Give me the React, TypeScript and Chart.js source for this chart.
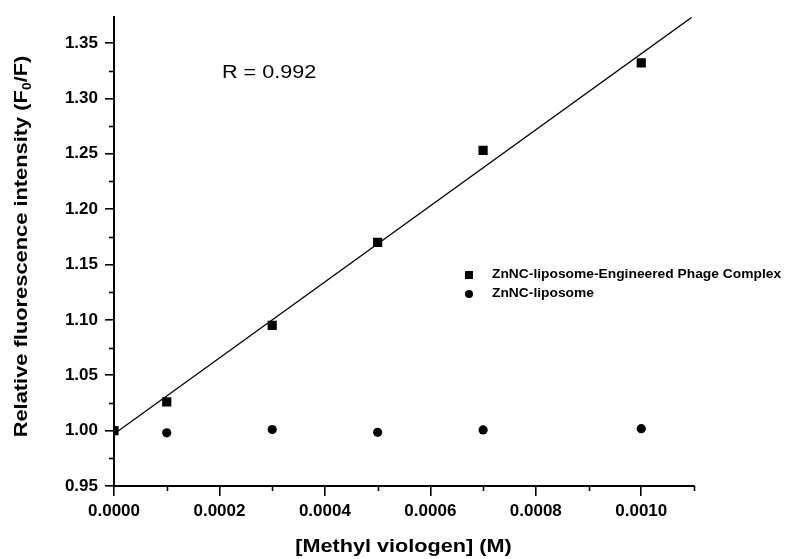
import React, { useEffect, useRef } from "react";
import { Chart, registerables } from "chart.js";

Chart.register(...registerables);

const concentrations = [0, 0.0001, 0.0003, 0.0005, 0.0007, 0.001];
const phageComplex = [1.0, 1.026, 1.095, 1.17, 1.253, 1.332];
const liposomeConc = [0.0001, 0.0003, 0.0005, 0.0007, 0.001];
const liposome = [0.998, 1.001, 0.9985, 1.0006, 1.0018];
const fitX = [0, 0.001096];
const fitY = [0.997, 1.3733];
const seriesNames = ["ZnNC-liposome-Engineered Phage Complex", "ZnNC-liposome"];
const rLabel = "R = 0.992";
const xTitle = "[Methyl viologen] (M)";
const yTitleParts = ["Relative fluorescence intensity (F", "0", "/F)"];

const FONT = "Arial, 'Liberation Sans', Helvetica, sans-serif";

const decorPlugin = {
  id: "decor",
  afterDraw(chart: any) {
    const ctx = chart.ctx;
    const xs = chart.scales.x;
    const ys = chart.scales.y;
    const area = chart.chartArea;
    ctx.save();
    // minor ticks
    ctx.strokeStyle = "#000";
    ctx.lineWidth = 1.6;
    const xMinor = [0.0001, 0.0003, 0.0005, 0.0007, 0.0009, 0.0011];
    xMinor.forEach((v) => {
      const px = Math.round(xs.getPixelForValue(v)) + 0.5;
      ctx.beginPath();
      ctx.moveTo(px, area.bottom);
      ctx.lineTo(px, area.bottom + 5);
      ctx.stroke();
    });
    const yMinor = [0.975, 1.025, 1.075, 1.125, 1.175, 1.225, 1.275, 1.325];
    yMinor.forEach((v) => {
      const py = Math.round(ys.getPixelForValue(v)) + 0.5;
      ctx.beginPath();
      ctx.moveTo(area.left, py);
      ctx.lineTo(area.left - 5, py);
      ctx.stroke();
    });

    ctx.fillStyle = "#000";
    // x title
    ctx.save();
    ctx.font = `bold 19px ${FONT}`;
    ctx.textBaseline = "alphabetic";
    ctx.textAlign = "center";
    ctx.translate(403.5, 552);
    ctx.scale(1.14, 1);
    ctx.fillText(xTitle, 0, 0);
    ctx.restore();

    // y title with subscript
    ctx.save();
    ctx.translate(27, 246.5);
    ctx.rotate(-Math.PI / 2);
    ctx.scale(1.15, 1);
    const mainFont = `bold 19px ${FONT}`;
    const subFont = `bold 12px ${FONT}`;
    ctx.font = mainFont;
    const w0 = ctx.measureText(yTitleParts[0]).width;
    const w2 = ctx.measureText(yTitleParts[2]).width;
    ctx.font = subFont;
    const w1 = ctx.measureText(yTitleParts[1]).width;
    const total = w0 + w1 + w2;
    let x = -total / 2;
    ctx.textAlign = "left";
    ctx.textBaseline = "alphabetic";
    ctx.font = mainFont;
    ctx.fillText(yTitleParts[0], x, 0);
    x += w0;
    ctx.font = subFont;
    ctx.fillText(yTitleParts[1], x, 4);
    x += w1;
    ctx.font = mainFont;
    ctx.fillText(yTitleParts[2], x, 0);
    ctx.restore();

    // R label
    ctx.save();
    ctx.font = `18px ${FONT}`;
    ctx.textAlign = "left";
    ctx.textBaseline = "alphabetic";
    ctx.translate(222, 78);
    ctx.scale(1.2, 1);
    ctx.fillText(rLabel, 0, 0);
    ctx.restore();

    // legend
    ctx.save();
    const legY = [275, 294];
    ctx.fillRect(465, legY[0] - 4, 8, 8);
    ctx.beginPath();
    ctx.arc(469, legY[1], 4, 0, Math.PI * 2);
    ctx.fill();
    ctx.font = `bold 12px ${FONT}`;
    ctx.textBaseline = "middle";
    ctx.textAlign = "left";
    seriesNames.forEach((n, i) => {
      ctx.save();
      ctx.translate(492, legY[i]);
      ctx.scale(1.15, 1);
      ctx.fillText(n, 0, 0);
      ctx.restore();
    });
    ctx.restore();

    ctx.restore();
  },
};

export default function App() {
  const ref = useRef<HTMLCanvasElement | null>(null);
  useEffect(() => {
    if (!ref.current) return;
    const chart = new Chart(ref.current, {
      type: "scatter",
      data: {
        datasets: [
          {
            label: "fit",
            data: fitX.map((x, i) => ({ x, y: fitY[i] })),
            showLine: true,
            borderColor: "#000",
            borderWidth: 1.3,
            pointRadius: 0,
            fill: false,
          },
          {
            label: seriesNames[0],
            data: concentrations.map((x, i) => ({ x, y: phageComplex[i] })),
            pointStyle: "rect",
            pointRadius: 6.5,
            backgroundColor: "#000",
            borderColor: "#000",
            borderWidth: 0,
          },
          {
            label: seriesNames[1],
            data: liposomeConc.map((x, i) => ({ x, y: liposome[i] })),
            pointStyle: "circle",
            pointRadius: 4.6,
            backgroundColor: "#000",
            borderColor: "#000",
            borderWidth: 0,
          },
        ],
      },
      options: {
        animation: false,
        responsive: false,
        events: [],
        layout: { padding: { top: 14, right: 93, left: 0, bottom: 0 } },
        plugins: { legend: { display: false }, tooltip: { enabled: false } },
        scales: {
          x: {
            type: "linear",
            min: 0,
            max: 0.0011,
            afterFit: (s: any) => {
              s.height = 73;
            },
            border: { display: true, color: "#000", width: 2 },
            grid: {
              display: true,
              drawOnChartArea: false,
              drawTicks: true,
              tickLength: 10,
              color: "#000",
              lineWidth: 1.6,
            },
            ticks: {
              stepSize: 0.0002,
              includeBounds: false,
              color: "#000",
              padding: 5,
              maxRotation: 0,
              font: { family: FONT, size: 17, weight: "bold" },
              callback: (v: any) => Number(v).toFixed(4),
            },
          },
          y: {
            type: "linear",
            min: 0.95,
            max: 1.3733,
            afterFit: (s: any) => {
              s.width = 114;
            },
            border: { display: true, color: "#000", width: 2 },
            grid: {
              display: true,
              drawOnChartArea: false,
              drawTicks: true,
              tickLength: 9,
              color: "#000",
              lineWidth: 1.6,
            },
            ticks: {
              stepSize: 0.05,
              includeBounds: false,
              color: "#000",
              padding: 7,
              font: { family: FONT, size: 17, weight: "bold" },
              callback: (v: any) => Number(v).toFixed(2),
            },
          },
        },
      },
      plugins: [decorPlugin],
    } as any);
    return () => chart.destroy();
  }, []);
  return (
    <div style={{ position: "fixed", left: 0, top: 0, width: 787, height: 559, background: "#fff" }}>
      <canvas ref={ref} width={787} height={559} style={{ display: "block" }} />
    </div>
  );
}
